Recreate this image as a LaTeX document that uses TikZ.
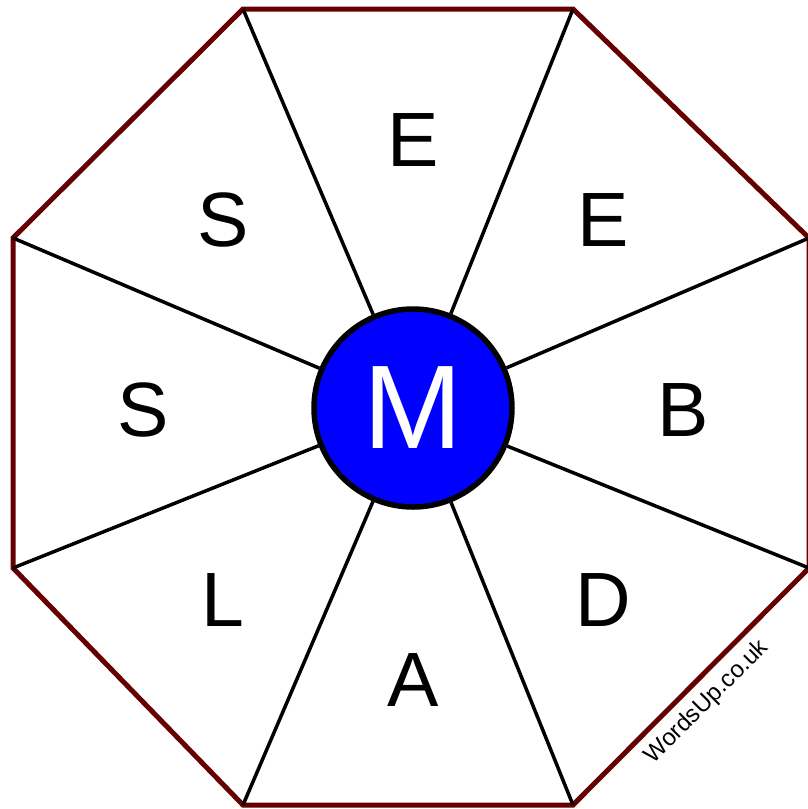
\documentclass[tikz,border=0pt]{standalone}
\usepackage{fontspec}
\setmainfont{Liberation Sans}
\definecolor{rimred}{RGB}{102,0,0}
\begin{document}
\begin{tikzpicture}[x=1pt, y=-1pt,
    rim/.style={draw=rimred, line width=5pt, line join=miter},
    spoke/.style={draw=black, line width=3.5pt},
    letter/.style={inner sep=0pt, font=\fontsize{77}{77}\selectfont},
    hub/.style={circle, draw=black, fill=blue, line width=5.5pt, minimum size=198pt,
        inner sep=0pt, text=white, font=\fontsize{119}{119}\selectfont},
    credit/.style={inner sep=0pt, rotate=45, font=\fontsize{24}{24}\selectfont}]

    \useasboundingbox (0,0) rectangle (808,809);

    % Octagon corners, clockwise from top left
    \coordinate (v1) at (243,9);
    \coordinate (v2) at (573,9);
    \coordinate (v3) at (809,238);
    \coordinate (v4) at (809,568);
    \coordinate (v5) at (573,805);
    \coordinate (v6) at (243,805);
    \coordinate (v7) at (13,568);
    \coordinate (v8) at (13,238);
    \draw[rim] (v1) -- (v2) -- (v3) -- (v4) -- (v5) -- (v6) -- (v7) -- (v8) -- cycle;

    % Centre letter and spokes
    \node[hub] (centre) at (413,408) {M};
    \foreach \v in {1,...,8} {
        \draw[spoke] (centre) -- (v\v);
    }

    % Outer letters
    \node[letter] (top)      at (413,140) {E};
    \node[letter] (topright) at (603,220) {E};
    \node[letter] (right)    at (683,410) {B};
    \node[letter] (botright) at (603,600) {D};
    \node[letter] (bottom)   at (413,680) {A};
    \node[letter] (botleft)  at (223,600) {L};
    \node[letter] (left)     at (143,410) {S};
    \node[letter] (topleft)  at (223,220) {S};

    % Credit
    \node[credit] (site) at (707,702) {WordsUp.co.uk};
\end{tikzpicture}
\end{document}
